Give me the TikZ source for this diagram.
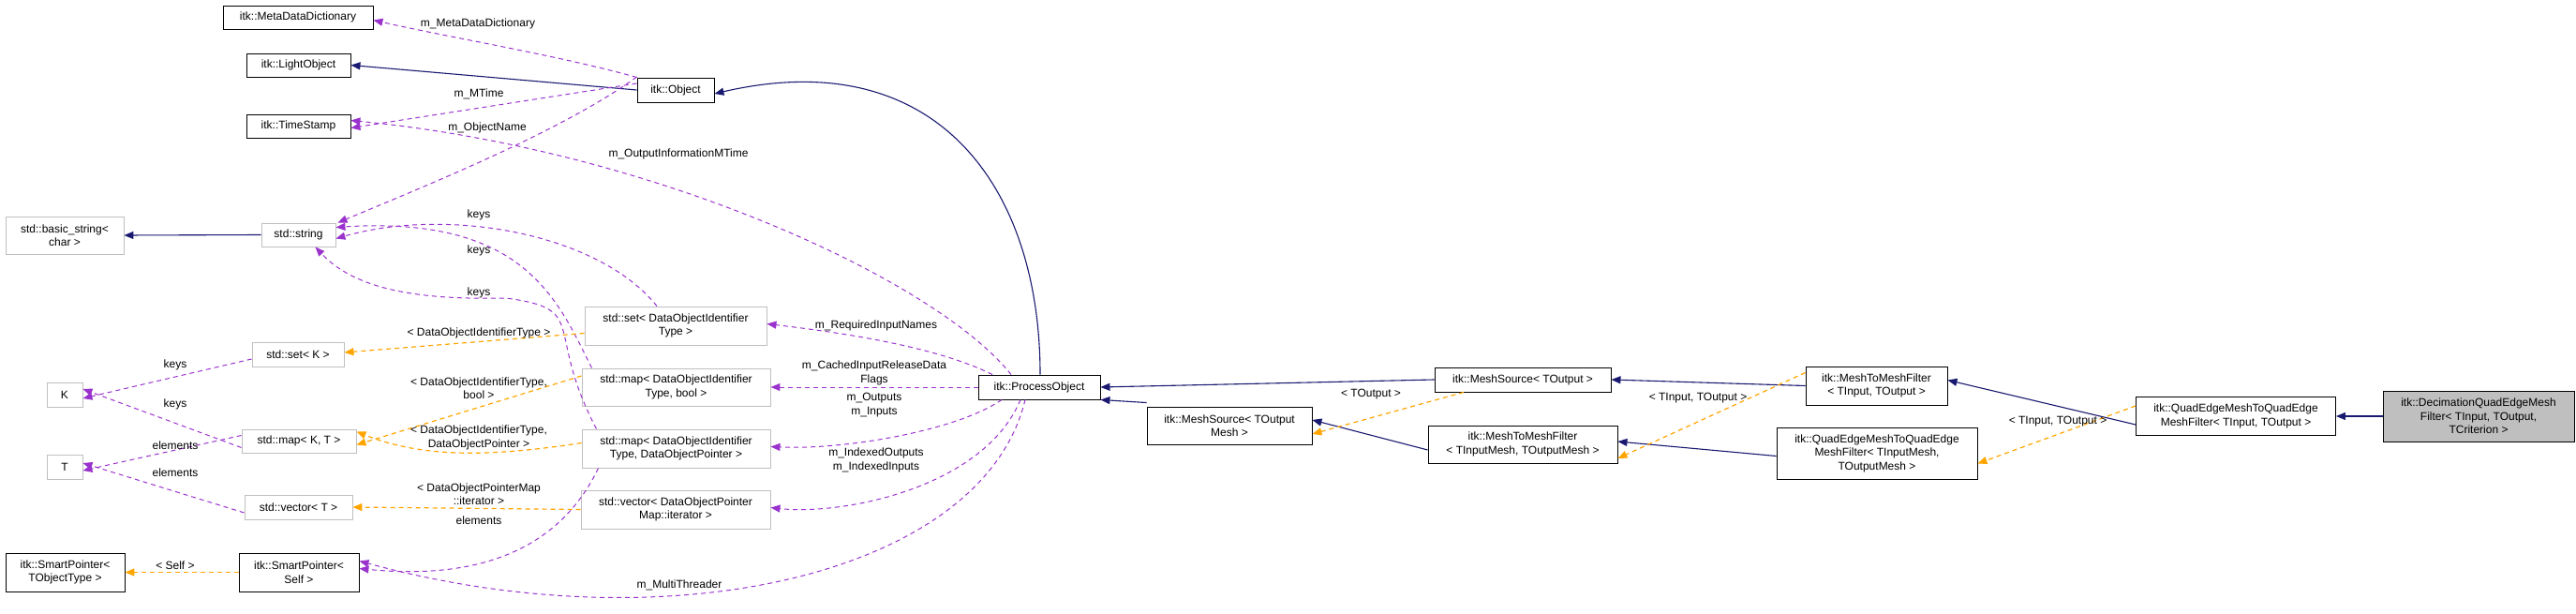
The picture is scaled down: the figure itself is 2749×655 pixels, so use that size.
\documentclass[tikz,border=0pt]{standalone}
\usepackage{fontspec}
\setmainfont{Liberation Sans}
\usetikzlibrary{arrows.meta}
\definecolor{navy}{HTML}{191970}
\definecolor{purp}{HTML}{9A32CD}
\definecolor{orng}{HTML}{FFA500}
\definecolor{gbord}{HTML}{BFBFBF}
\newcommand{\dfs}{\fontsize{12}{14.5}\selectfont}
\tikzset{
 box/.style={draw=black, line width=0.9pt, rectangle, inner sep=1pt, font=\dfs, align=center, fill=white},
 gbox/.style={box, draw=gbord},
 inh/.style={draw=navy, line width=1.1pt, -{Triangle[length=10pt,width=8pt]}},
 use/.style={draw=purp, line width=1pt, dash pattern=on 5pt off 4pt, -{Triangle[length=10pt,width=8pt]}},
 tpl/.style={draw=orng, line width=1.2pt, dash pattern=on 5pt off 4pt, -{Triangle[length=10pt,width=8pt]}},
 lbl/.style={font=\dfs, align=center, inner sep=0pt},
}
\begin{document}
\begin{tikzpicture}[x=1pt,y=-1pt]
\useasboundingbox (0,0) rectangle (2749,655);
% nodes
\node[box, minimum width=160, minimum height=25] (MDD) at (318,18.5) {itk::MetaDataDictionary};
\node[box, minimum width=111, minimum height=25] (LO) at (318.5,69.5) {itk::LightObject};
\node[box, minimum width=111, minimum height=25] (TS) at (318.5,134.5) {itk::TimeStamp};
\node[box, minimum width=82, minimum height=26] (OB) at (721,96) {itk::Object};
\node[gbox, minimum width=126, minimum height=40] (BS) at (69,251) {std::basic\_string<\\char >};
\node[gbox, minimum width=79, minimum height=25] (ST) at (318.5,250.5) {std::string};
\node[gbox, minimum width=98, minimum height=26] (SK) at (318,378) {std::set< K >};
\node[gbox, minimum width=38, minimum height=26] (K) at (69,421) {K};
\node[gbox, minimum width=122, minimum height=25] (MK) at (319,470.5) {std::map< K, T >};
\node[gbox, minimum width=38, minimum height=26] (T) at (69,498) {T};
\node[gbox, minimum width=115, minimum height=26] (VT) at (318.5,541) {std::vector< T >};
\node[box, minimum width=127, minimum height=41] (SPT) at (69.5,610.5) {itk::SmartPointer<\\TObjectType >};
\node[box, minimum width=128, minimum height=41] (SPS) at (319,610.5) {itk::SmartPointer<\\Self >};
\node[gbox, minimum width=194, minimum height=41] (SD) at (721,347.5) {std::set< DataObjectIdentifier\\Type >};
\node[gbox, minimum width=201, minimum height=40] (MB) at (721.5,413) {std::map< DataObjectIdentifier\\Type, bool >};
\node[gbox, minimum width=201, minimum height=41] (MP) at (721.5,478.5) {std::map< DataObjectIdentifier\\Type, DataObjectPointer >};
\node[gbox, minimum width=202, minimum height=41] (VD) at (721,543.5) {std::vector< DataObjectPointer\\Map::iterator >};
\node[box, minimum width=130, minimum height=26] (PO) at (1109,413) {itk::ProcessObject};
\node[box, minimum width=176, minimum height=40] (MSM) at (1312,454) {itk::MeshSource< TOutput\\Mesh >};
\node[box, minimum width=188, minimum height=26] (MSO) at (1625,405) {itk::MeshSource< TOutput >};
\node[box, minimum width=202, minimum height=40] (MM2) at (1625,474) {itk::MeshToMeshFilter\\< TInputMesh, TOutputMesh >};
\node[box, minimum width=151, minimum height=41] (MM1) at (2002.5,411.5) {itk::MeshToMeshFilter\\< TInput, TOutput >};
\node[box, minimum width=214, minimum height=55] (QE2) at (2003,483.5) {itk::QuadEdgeMeshToQuadEdge\\MeshFilter< TInputMesh,\\TOutputMesh >};
\node[box, minimum width=213, minimum height=41] (QE1) at (2386,444) {itk::QuadEdgeMeshToQuadEdge\\MeshFilter< TInput, TOutput >};
\node[box, fill=gbord, minimum width=204, minimum height=54] (DEC) at (2645,444) {itk::DecimationQuadEdgeMesh\\Filter< TInput, TOutput,\\TCriterion >};
% inheritance
\draw[inh] (OB.west) -- (LO.east);
\draw[inh] (ST.west) -- (BS.east);
\draw[inh] ([xshift=1pt]PO.north) .. controls (1110,200) and (1000,45) .. ([yshift=-4pt]OB.east);
\draw[inh] ([yshift=4pt]MSM.north west) -- (PO.south east);
\draw[inh] (MSO.west) -- (PO.east);
\draw[inh] ([yshift=-6pt]MM2.west) -- ([yshift=6pt]MSM.east);
\draw[inh] (MM1.west) -- (MSO.east);
\draw[inh] ([yshift=-3pt]QE2.west) -- ([yshift=3pt]MM2.east);
\draw[inh] ([yshift=-9pt]QE1.west) -- ([yshift=6pt]MM1.east);
\draw[inh] (DEC.west) -- (QE1.east);
% usage
\draw[use] (OB.north west) .. controls (600,60) and (480,40) .. ([yshift=-3pt]MDD.east);
\draw[use] ([yshift=7pt]OB.west) -- ([yshift=-2pt]TS.east);
\draw[use] ([yshift=14pt]OB.west) .. controls (600,140) and (450,200) .. ([xshift=2pt]ST.north east);
\draw[use] ([xshift=-30pt]PO.north) .. controls (1000,300) and (700,160) .. ([yshift=6pt]TS.east);
\draw[use] ([xshift=-20pt]SD.north) .. controls (640,250) and (480,220) .. ([yshift=-4pt]ST.east);
\draw[use] ([xshift=-90pt]MB.north) .. controls (595,320) and (560,230) .. ([yshift=8pt]ST.east);
\draw[use] ([xshift=-85pt]MP.north) .. controls (580,350) and (630,330) .. (540,318) .. controls (450,320) and (380,310) .. ([xshift=18pt]ST.south);
\draw[use] ([xshift=-83pt]MP.south) .. controls (600,580) and (520,620) .. ([yshift=4pt]SPS.east);
\draw[use] ([xshift=-15pt]PO.south) .. controls (1050,610) and (720,690) .. ([yshift=12pt]SPS.east);
\draw[use] ([xshift=-50pt]PO.north) .. controls (1000,370) and (900,355) .. ([yshift=2pt]SD.east);
\draw[use] (PO.west) -- (MB.east);
\draw[use] ([xshift=-40pt]PO.south) .. controls (1020,460) and (900,480) .. ([yshift=2pt]MP.east);
\draw[use] ([xshift=-20pt]PO.south) .. controls (1050,520) and (900,550) .. ([yshift=2pt]VD.east);
\draw[use] ([yshift=-5pt]SK.west) -- ([yshift=-4pt]K.east);
\draw[use] ([yshift=-7pt]MK.west) -- ([yshift=6pt]K.east);
\draw[use] ([yshift=6pt]MK.west) -- ([yshift=-4pt]T.east);
\draw[use] ([yshift=-6pt]VT.west) -- ([yshift=4pt]T.east);
% template
\draw[tpl] ([yshift=-8pt]SD.west) -- ([yshift=2pt]SK.east);
\draw[tpl] ([yshift=12pt]MB.west) -- ([yshift=-4pt]MK.east);
\draw[tpl] ([yshift=6pt]MP.west) .. controls (520,488) and (450,488) .. ([yshift=10pt]MK.east);
\draw[tpl] (VD.west) -- (VT.east);
\draw[tpl] (SPS.west) -- (SPT.east);
\draw[tpl] ([xshift=-63pt]MSO.south) -- ([yshift=-9pt]MSM.east);
\draw[tpl] ([yshift=14pt]MM1.west) -- ([yshift=-15pt]MM2.east);
\draw[tpl] ([yshift=11pt]QE1.west) -- ([yshift=-11pt]QE2.east);
% labels
\node[lbl] (l1) at (510,25) {m\_MetaDataDictionary};
\node[lbl] (l2) at (511,100) {m\_MTime};
\node[lbl] (l3) at (520,136) {m\_ObjectName};
\node[lbl] (l4) at (724,164) {m\_OutputInformationMTime};
\node[lbl] (l5) at (511,229) {keys};
\node[lbl] (l6) at (511,267) {keys};
\node[lbl] (l7) at (511,312) {keys};
\node[lbl] (l8) at (935,347) {m\_RequiredInputNames};
\node[lbl] (l9) at (933,398) {m\_CachedInputReleaseData\\Flags};
\node[lbl] (l10) at (933,432) {m\_Outputs\\m\_Inputs};
\node[lbl] (l11) at (935,491) {m\_IndexedOutputs\\m\_IndexedInputs};
\node[lbl] (l12) at (725,624) {m\_MultiThreader};
\node[lbl] (l13) at (511,355) {< DataObjectIdentifierType >};
\node[lbl] (l14) at (511,414) {< DataObjectIdentifierType,\\bool >};
\node[lbl] (l15) at (511,467) {< DataObjectIdentifierType,\\DataObjectPointer >};
\node[lbl] (l16) at (511,527) {< DataObjectPointerMap\\::iterator >};
\node[lbl] (l17) at (511,555) {elements};
\node[lbl] (l18) at (187,389) {keys};
\node[lbl] (l19) at (187,431) {keys};
\node[lbl] (l20) at (187,475) {elements};
\node[lbl] (l21) at (187,504) {elements};
\node[lbl] (l22) at (187,603) {< Self >};
\node[lbl] (l23) at (1463,421) {< TOutput >};
\node[lbl] (l24) at (1812,425) {< TInput, TOutput >};
\node[lbl] (l25) at (2196,450) {< TInput, TOutput >};
\end{tikzpicture}
\end{document}
